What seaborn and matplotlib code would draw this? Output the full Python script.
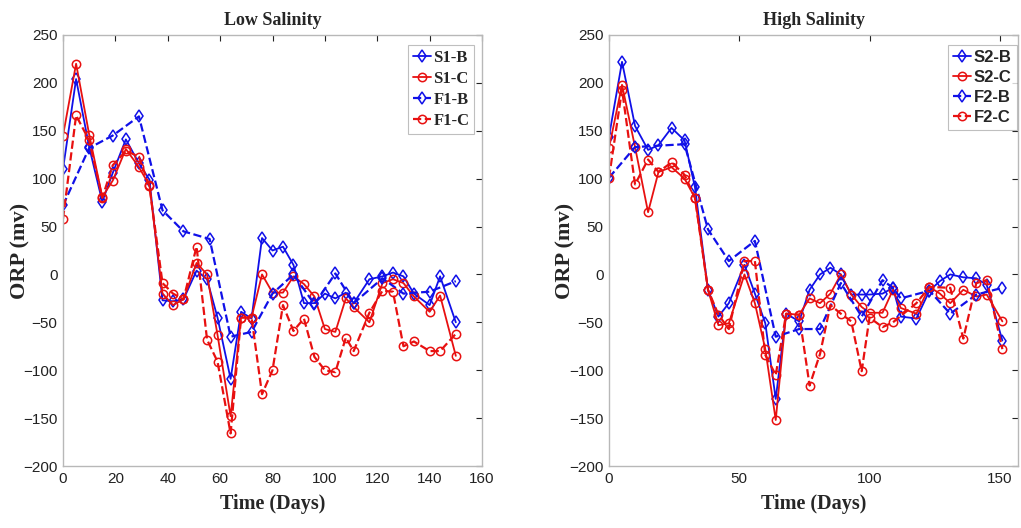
import numpy as np
import pandas as pd
import matplotlib
matplotlib.use("Agg")
import matplotlib.pyplot as plt
import seaborn as sns

# ---------------- Low salinity data ----------------
t_s1 = [0, 5, 10, 15, 19, 24, 29, 33, 38, 42, 46, 51, 55, 59, 64, 68, 72, 76, 80, 84,
        88, 92, 96, 100, 104, 108, 111, 117, 122, 126, 130, 134, 140, 144, 150]
s1_b = [110, 204, 133, 76, 106, 141, 116, 99, -27, -28, -26, 4, -5, -45, -109, -39, -46, 38, 25, 29,
        10, -30, -30, -20, -25, -19, -30, -5, -2, 2, -2, -20, -32, -2, -50]
s1_c = [145, 220, 146, 81, 98, 131, 112, 93, -20, -32, -26, 12, 0, -63, -148, -45, -45, 0, -19, -19,
        -2, -10, -23, -57, -60, -25, -34, -50, -9, -5, -9, -23, -39, -22, -85]
t_f1b = [0, 10, 19, 29, 38, 46, 56, 64, 72, 80, 88, 96, 104, 111, 122, 130, 140, 150]
f1_b = [72, 132, 145, 165, 67, 45, 37, -65, -60, -20, 0, -31, 1, -30, -4, -20, -18, -7]
t_f1c = [0, 5, 10, 15, 19, 24, 29, 33, 38, 42, 46, 51, 55, 59, 64, 68, 72, 76, 80, 84, 88, 92,
         96, 100, 104, 108, 111, 117, 122, 126, 130, 134, 140, 144, 150]
f1_c = [58, 166, 140, 80, 114, 129, 123, 92, -9, -20, -26, 29, -68, -91, -166, -45, -45, -125, -100, -32,
        -59, -46, -86, -100, -102, -66, -80, -40, -17, -18, -75, -70, -80, -80, -62]

# ---------------- High salinity data ----------------
t_s2 = [0, 5, 10, 15, 19, 24, 29, 33, 38, 42, 46, 52, 56, 60, 64, 68, 73, 77, 81, 85,
        89, 93, 97, 100, 105, 109, 112, 118, 123, 127, 131, 136, 141, 145, 151]
s2_b = [144, 222, 155, 130, 135, 153, 140, 91, -16, -44, -30, 10, -20, -51, -130, -41, -49, -16, 0, 7,
        0, -21, -21, -21, -20, -14, -44, -46, -17, -7, 0, -3, -4, -11, -69]
s2_c = [132, 198, 133, 65, 107, 112, 100, 80, -16, -53, -51, 0, -30, -78, -152, -41, -42, -25, -30, -20,
        0, -21, -34, -40, -40, -16, -35, -41, -13, -20, -30, -16, -23, -21, -49]
t_f2b = [0, 10, 29, 38, 46, 56, 64, 73, 81, 89, 97, 105, 109, 112, 123, 131, 141, 151]
f2_b = [101, 133, 136, 47, 14, 35, -65, -57, -57, -9, -44, -6, -14, -25, -17, -41, -21, -14]
t_f2c = [0, 5, 10, 15, 19, 24, 29, 33, 38, 42, 46, 52, 56, 60, 64, 68, 73, 77, 81, 85,
         89, 93, 97, 100, 105, 109, 118, 123, 131, 136, 141, 145, 151]
f2_c = [101, 193, 94, 120, 107, 117, 104, 80, -16, -42, -57, 14, 14, -84, -105, -41, -42, -116, -83, -32,
        -41, -49, -101, -45, -55, -50, -30, -13, -14, -67, -9, -6, -78]

BLUE = "#1010e8"
RED = "#e81010"

sns.set_style("white")
plt.rcParams["font.family"] = ["Liberation Sans", "DejaVu Sans"]

fig = plt.figure(figsize=(10.21, 5.28), dpi=100)
ax1 = fig.add_axes([63 / 1021, 1 - 466 / 528, (482 - 63) / 1021, 431 / 528])
ax2 = fig.add_axes([609 / 1021, 1 - 466 / 528, (1018 - 609) / 1021, 431 / 528])


def draw(ax, series, title, xlim, xticks, legfam, ylab_x, leg_x):
    for (t, v, lab, col, mk, ls) in series:
        df = pd.DataFrame({"t": t, "v": v})
        sns.lineplot(data=df, x="t", y="v", ax=ax, color=col, marker=mk, linestyle=ls,
                     lw=1.3 if ls == "-" else 1.6, markersize=6,
                     markerfacecolor="none", markeredgecolor=col, markeredgewidth=1.1,
                     label=lab, sort=False, estimator=None)
    ax.set_xlim(*xlim)
    ax.set_ylim(-200, 250)
    ax.set_xticks(xticks)
    ax.set_yticks(np.arange(-200, 251, 50))
    ax.tick_params(direction="in", top=True, right=True, length=4, width=0.8,
                   labelsize=11, colors="#222222", pad=4)
    for sp in ax.spines.values():
        sp.set_color("#b8b8b8")
        sp.set_linewidth(1.0)
    ax.set_title(title, fontsize=13, fontweight="bold", family="Liberation Serif", pad=7)
    ax.set_xlabel("Time (Days)", fontsize=14.5, fontweight="bold", family="Liberation Serif", labelpad=6)
    ax.set_ylabel("ORP (mv)", fontsize=16, fontweight="bold", family="Liberation Serif")
    ax.yaxis.set_label_coords(ylab_x, 0.5)
    leg = ax.legend(loc="upper right", bbox_to_anchor=(leg_x, 0.985),
                    prop={"family": legfam, "weight": "bold", "size": 12},
                    handlelength=1.1, handletextpad=0.15, labelspacing=0.3, borderpad=0.3,
                    frameon=True, fancybox=False, borderaxespad=0.2)
    leg.get_frame().set_edgecolor("#b0b0b0")
    leg.get_frame().set_linewidth(0.8)


draw(ax1, [
    (t_s1, s1_b, "S1-B", BLUE, "d", "-"),
    (t_s1, s1_c, "S1-C", RED, "o", "-"),
    (t_f1b, f1_b, "F1-B", BLUE, "d", "--"),
    (t_f1c, f1_c, "F1-C", RED, "o", "--"),
], "Low Salinity", (0, 160), np.arange(0, 161, 20), "Liberation Serif", -0.077, 0.99)

draw(ax2, [
    (t_s2, s2_b, "S2-B", BLUE, "d", "-"),
    (t_s2, s2_c, "S2-C", RED, "o", "-"),
    (t_f2b, f2_b, "F2-B", BLUE, "d", "--"),
    (t_f2c, f2_c, "F2-C", RED, "o", "--"),
], "High Salinity", (0, 157), [0, 50, 100, 150], "Liberation Sans", -0.081, 1.005)

fig.savefig("out.png", dpi=100)
